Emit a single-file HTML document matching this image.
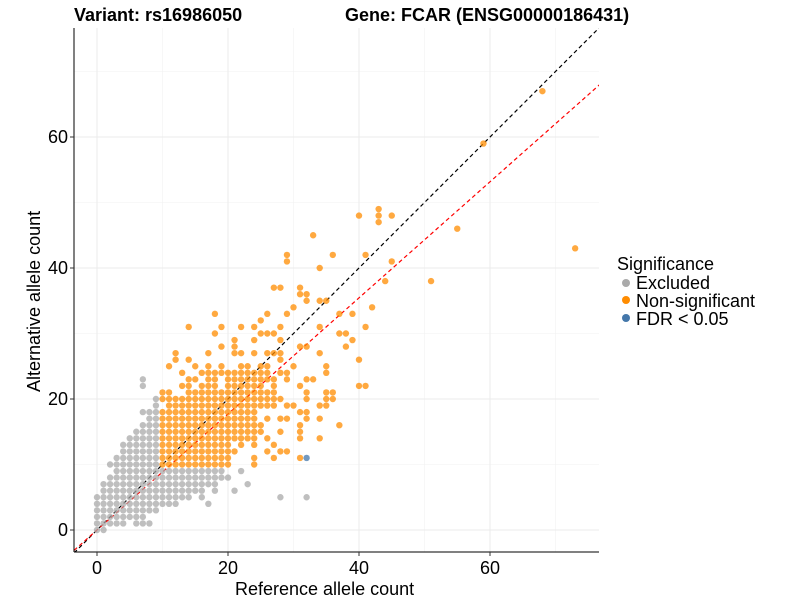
<!DOCTYPE html>
<html><head><meta charset="utf-8"><style>
body{margin:0;background:#fff;font-family:"Liberation Sans",sans-serif}
</style></head><body>
<svg id="c" width="800" height="600" style="font-family:'Liberation Sans',sans-serif">
<text x="74" y="21" font-size="18" font-weight="bold">Variant: rs16986050</text>
<text x="345" y="21" font-size="18" font-weight="bold">Gene: FCAR (ENSG00000186431)</text>
<g id="grid"></g>
<g id="lines"></g>
<g id="pts"></g>
<g id="axes"></g>
<text x="235" y="595" font-size="18">Reference allele count</text>
<text transform="translate(40,392) rotate(-90)" font-size="18">Alternative allele count</text>
<g>
<text x="617" y="270" font-size="18">Significance</text>
<circle cx="626" cy="283" r="4" fill="#aaaaaa"/>
<text x="636" y="289" font-size="18">Excluded</text>
<circle cx="626" cy="300" r="4" fill="#ff8c00"/>
<text x="636" y="307" font-size="18">Non-significant</text>
<circle cx="626" cy="318" r="4" fill="#4477aa"/>
<text x="636" y="325" font-size="18">FDR &lt; 0.05</text>
</g>
</svg>
<script>
const xTicks=[0,20,40,60];
const yTicks=[0,20,40,60];
const minorTicks=[10,30,50,70];
const redSlope=0.886;
// runs: [y, xStart, xEnd]
const orangeRuns=[[10,10,20],[11,10,20],[12,10,21],[13,10,20],[14,10,24],[15,10,25],[16,10,25],[17,10,24],[18,10,24],[19,11,27],[20,10,28],[21,14,27]];
const orangePoints=[[24,10],[24,11],[27,11],[31,11],[26,12],[28,12],[29,12],[22,13],[24,13],[27,13],[26,14],[31,14],[34,14],[28,15],[31,15],[31,16],[37,16],[26,17],[28,17],[29,17],[32,17],[34,17],[31,18],[32,18],[29,19],[30,19],[34,19],[35,19],[32,20],[35,20],[36,20],
[10,21],[11,21],[32,21],[35,21],[36,21],
[13,22],[14,22],[16,22],[17,22],[18,22],[20,22],[21,22],[22,22],[23,22],[24,22],[25,22],[27,22],[31,22],[40,22],[41,22],
[14,23],[15,23],[17,23],[18,23],[20,23],[21,23],[22,23],[23,23],[24,23],[25,23],[26,23],[27,23],[29,23],[32,23],[33,23],
[13,24],[16,24],[17,24],[18,24],[19,24],[20,24],[21,24],[22,24],[23,24],[24,24],[25,24],[26,24],[28,24],[29,24],[35,24],
[11,25],[15,25],[17,25],[19,25],[22,25],[23,25],[25,25],[26,25],[30,25],[35,25],[12,26],[14,26],[28,26],[40,26],
[12,27],[17,27],[21,27],[22,27],[24,27],[26,27],[27,27],[28,27],[34,27],[19,28],[21,28],[31,28],[32,28],[38,28],
[21,29],[24,29],[28,29],[39,29],[18,30],[25,30],[26,30],[27,30],[37,30],[38,30],
[14,31],[19,31],[22,31],[24,31],[28,31],[34,31],[41,31],[25,32],[18,33],[26,33],[29,33],[37,33],[39,33],[30,34],[42,34],
[32,35],[34,35],[35,35],[31,36],[32,36],[27,37],[28,37],[31,37],[44,38],[34,40],[29,41],[45,41],[29,42],[36,42],[41,42],[33,45],
[40,48],[43,48],[45,48],[43,47],[43,49],[55,46],[51,38],[73,43],[59,59],[68,67]];
const grayRuns=[[0,0,1],[1,0,4],[1,6,8],[2,0,7],[3,0,9],[4,0,12],[5,0,14],[6,1,16],[7,1,18],[8,2,20],[9,3,19],[10,2,9],[11,3,9],[12,4,9],[13,4,9],[14,5,9],[15,6,9],[16,7,9],[17,8,9],[18,7,9],[19,9,9],[20,9,9]];
const grayPoints=[[16,5],[22,9],[7,22],[7,23],[28,5],[32,5],[21,6],[17,4],[23,7],[18,6]];
const bluePoints=[[32,11]];
const X0=74,X1=599,Y0=28,Y1=552;
const sx=v=>97+v*6.55, sy=v=>530-v*6.55;
const ns="http://www.w3.org/2000/svg";
function mk(tag,parent,attrs){const e=document.createElementNS(ns,tag);for(const k in attrs)e.setAttribute(k,attrs[k]);parent.appendChild(e);return e;}
const grid=document.getElementById('grid');
minorTicks.forEach(t=>{
 if(sx(t)<X1){const l=mk('line',grid,{x1:sx(t),x2:sx(t),y1:Y0,y2:Y1,stroke:'#f2f2f2','stroke-width':0.6});
 }
 if(sy(t)>Y0){const l=mk('line',grid,{x1:X0,x2:X1,y1:sy(t),y2:sy(t),stroke:'#f2f2f2','stroke-width':0.6});
 }
});
xTicks.forEach(t=>{const l=mk('line',grid,{x1:sx(t),x2:sx(t),y1:Y0,y2:Y1,stroke:'#ebebeb','stroke-width':1});
 });
yTicks.forEach(t=>{const l=mk('line',grid,{x1:X0,x2:X1,y1:sy(t),y2:sy(t),stroke:'#ebebeb','stroke-width':1});
 });
const pts=document.getElementById('pts');
function dot(x,y,fill,name){const c=mk('circle',pts,{cx:sx(x),cy:sy(y),r:3.2,fill:fill,'fill-opacity':0.75});
 }
grayRuns.forEach(r=>{for(let x=r[1];x<=r[2];x++)dot(x,r[0],'#aaaaaa','excluded-point');});
grayPoints.forEach(p=>dot(p[0],p[1],'#aaaaaa','excluded-point'));
orangeRuns.forEach(r=>{for(let x=r[1];x<=r[2];x++)dot(x,r[0],'#ff8c00','nonsig-point');});
orangePoints.forEach(p=>dot(p[0],p[1],'#ff8c00','nonsig-point'));
bluePoints.forEach(p=>dot(p[0],p[1],'#4477aa','fdr-point'));
const lines=document.getElementById('lines');
const xa=-3.5,xb=80;
const bl=mk('line',lines,{x1:sx(xa),y1:sy(xa),x2:sx(xb),y2:sy(xb),stroke:'#000','stroke-dasharray':'4,3','stroke-width':1.2});

const rl=mk('line',lines,{x1:sx(xa),y1:sy(xa*redSlope),x2:sx(xb),y2:sy(xb*redSlope),stroke:'#ff0000','stroke-dasharray':'4,3','stroke-width':1.2});

const cp=mk('clipPath',lines,{id:'clip'});mk('rect',cp,{x:X0,y:Y0,width:X1-X0,height:Y1-Y0});
lines.setAttribute('clip-path','url(#clip)');
const axes=document.getElementById('axes');
mk('line',axes,{x1:X0,x2:X0,y1:Y0,y2:Y1,stroke:'#000'});
mk('line',axes,{x1:X0,x2:X1,y1:Y1,y2:Y1,stroke:'#000'});
xTicks.forEach(t=>{mk('line',axes,{x1:sx(t),x2:sx(t),y1:Y1,y2:Y1+4,stroke:'#333'});
 const tx=mk('text',axes,{x:sx(t),y:Y1+22,'font-size':18,'text-anchor':'middle',fill:'#000'});tx.textContent=t;
 });
yTicks.forEach(t=>{mk('line',axes,{x1:X0-4,x2:X0,y1:sy(t),y2:sy(t),stroke:'#333'});
 const tx=mk('text',axes,{x:X0-6,y:sy(t)+6,'font-size':18,'text-anchor':'end',fill:'#000'});tx.textContent=t;
 });
</script>
</body></html>
